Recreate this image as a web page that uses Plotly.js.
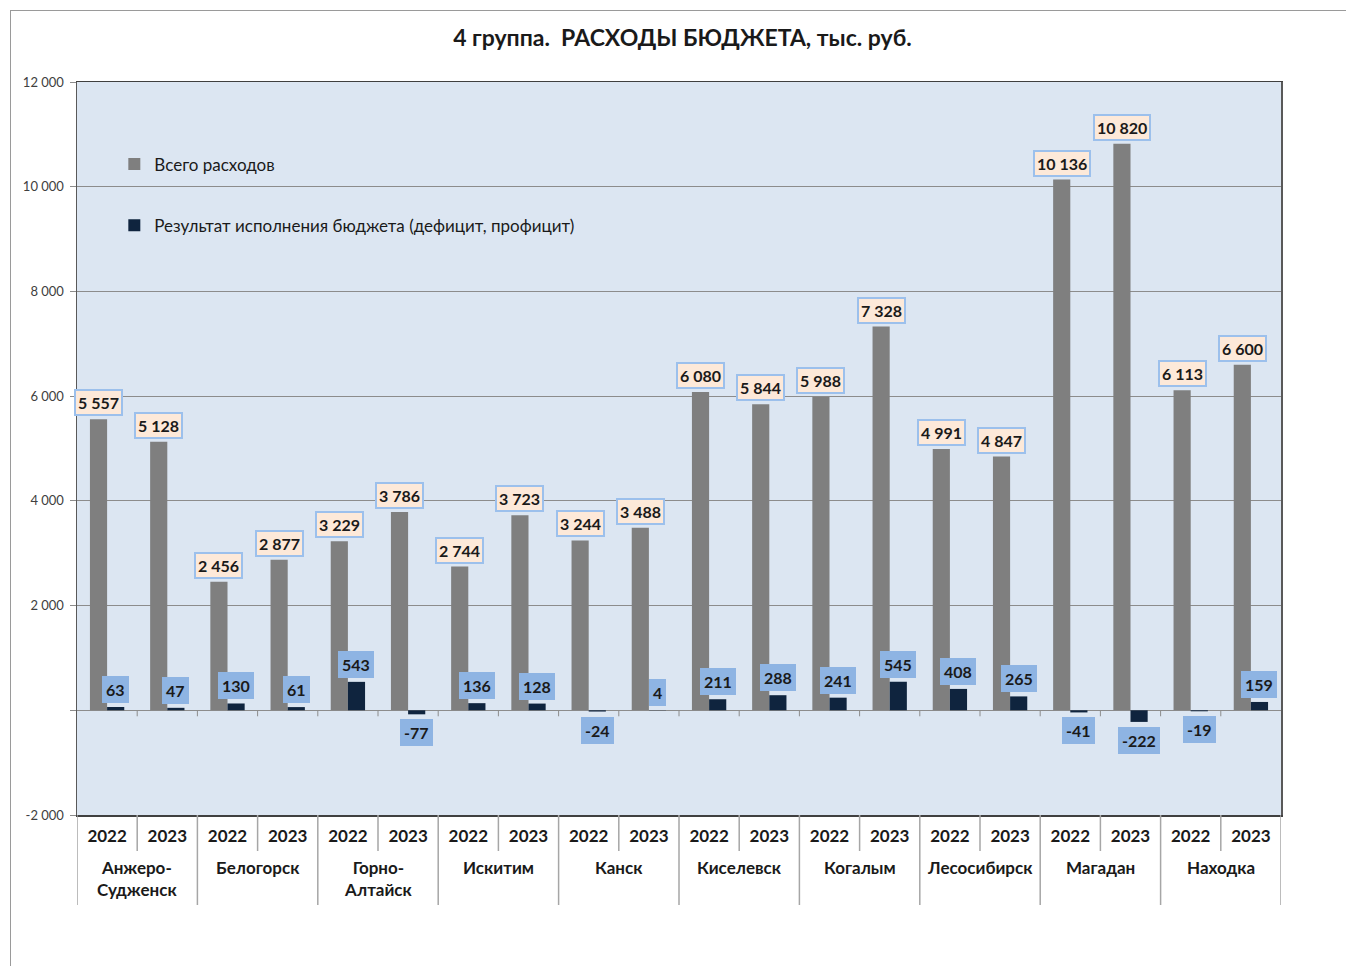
<!DOCTYPE html>
<html>
<head>
<meta charset="utf-8">
<script src="https://cdn.plot.ly/plotly-3.0.1.min.js"></script>
<style>
  html, body { margin: 0; padding: 0; background: #ffffff; }
  #chart { width: 1346px; height: 966px; }
  #frame { position: absolute; left: 10px; top: 10px; width: 1400px; height: 1000px;
           border-left: 1px solid #9a9a9a; border-top: 1px solid #9a9a9a; pointer-events: none; }
</style>
</head>
<body>
<div id="chart"></div>
<div id="frame"></div>
<script>
const cities = ['Анжеро-<br>Судженск', 'Белогорск', 'Горно-<br>Алтайск', 'Искитим', 'Канск',
                'Киселевск', 'Когалым', 'Лесосибирск', 'Магадан', 'Находка'];
const years = ['2022', '2023'];
const totalExp = [5557, 5128, 2456, 2877, 3229, 3786, 2744, 3723, 3244, 3488,
                  6080, 5844, 5988, 7328, 4991, 4847, 10136, 10820, 6113, 6600];
const balance = [63, 47, 130, 61, 543, -77, 136, 128, -24, 4,
                 211, 288, 241, 545, 408, 265, -41, -222, -19, 159];
const yTickVals = [-2000, 0, 2000, 4000, 6000, 8000, 10000, 12000];
const seriesNames = ['Всего расходов', 'Результат исполнения бюджета (дефицит, профицит)'];

const FONT = 'Lato, "Open Sans", sans-serif';
const fmt = v => {
  const s = Math.abs(v).toString().replace(/\B(?=(\d{3})+(?!\d))/g, ' ');
  return (v < 0 ? '-' : '') + s;
};

const xIdx = [];
const yearLabels = [];
cities.forEach((c, ci) => years.forEach((y, yi) => { xIdx.push(ci * years.length + yi); yearLabels.push(y); }));

const bargap = 0.43;
const barW = (1 - bargap) / 2;

const traces = [
  { type: 'bar', name: seriesNames[0], x: xIdx, y: totalExp, marker: { color: '#7f7f7f' },
    legendgroup: 'a', hoverinfo: 'skip' },
  { type: 'bar', name: seriesNames[1], x: xIdx, y: balance, marker: { color: '#0f243e' },
    legendgroup: 'b', hoverinfo: 'skip' }
];

const annotations = [];
xIdx.forEach((xi, i) => {
  annotations.push({
    x: xi - barW / 2, y: totalExp[i], xref: 'x', yref: 'y',
    text: fmt(totalExp[i]), showarrow: false, yanchor: 'bottom', yshift: 3,
    font: { family: FONT, size: 16, color: '#1a1a1a', weight: 'bold' },
    bgcolor: '#fde9d9', bordercolor: '#9cc0ec', borderwidth: 2, borderpad: 2
  });
  const b = balance[i];
  annotations.push({
    x: xi + barW / 2, y: b, xref: 'x', yref: 'y',
    text: fmt(b), showarrow: false,
    yanchor: b >= 0 ? 'bottom' : 'top', yshift: b >= 0 ? 4 : -5,
    font: { family: FONT, size: 16, color: '#1a1a1a', weight: 'bold' },
    bgcolor: '#8eb4e3', bordercolor: '#8eb4e3', borderwidth: 1, borderpad: 3
  });
});
cities.forEach((c, ci) => {
  annotations.push({
    x: ci * years.length + (years.length - 1) / 2, y: 0, xref: 'x', yref: 'paper',
    text: c, showarrow: false, yanchor: 'top', yshift: -40,
    font: { family: FONT, size: 17, color: '#1a1a1a', weight: 'bold' }
  });
});

const shapes = [];
const lineCol = '#a6a6a6';
for (let k = 0; k <= xIdx.length; k++) {
  const xb = k - 0.5;
  const isCity = (k % years.length === 0);
  shapes.push({ type: 'line', xref: 'x', yref: 'paper', x0: xb, x1: xb,
    ysizemode: 'pixel', yanchor: 0, y0: 0, y1: isCity ? -90 : -36,
    line: { color: lineCol, width: 1.5 } });
  if (k > 0 && k < xIdx.length) {
    shapes.push({ type: 'line', xref: 'x', yref: 'y', x0: xb, x1: xb,
      ysizemode: 'pixel', yanchor: 0, y0: 0, y1: -6,
      line: { color: '#8c8c8c', width: 1 } });
  }
}

const layout = {
  width: 1346, height: 966,
  margin: { l: 77, r: 65, t: 82, b: 151 },
  paper_bgcolor: '#ffffff', plot_bgcolor: '#dce6f2',
  font: { family: FONT, color: '#1a1a1a' },
  title: { text: '4 группа.  РАСХОДЫ БЮДЖЕТА, тыс. руб.', x: 0.507, xanchor: 'center',
           y: 1 - 38 / 966, yanchor: 'middle', yref: 'container',
           font: { family: FONT, size: 23, color: '#1a1a1a', weight: 'bold' } },
  barmode: 'group', bargap: bargap, bargroupgap: 0,
  showlegend: true,
  legend: { x: 0.031, y: 0.912, xanchor: 'left', yanchor: 'top', bgcolor: 'rgba(0,0,0,0)',
            traceorder: 'grouped', tracegroupgap: 36, itemclick: false,
            font: { family: FONT, size: 17, color: '#1a1a1a' } },
  xaxis: { type: 'linear', range: [-0.5, xIdx.length - 0.5], tickmode: 'array',
           tickvals: xIdx, ticktext: yearLabels, ticks: '', showgrid: false, zeroline: false,
           showline: true, linecolor: '#404040', linewidth: 1.5, mirror: true,
           tickfont: { family: FONT, size: 17, color: '#1a1a1a', weight: 'bold' },
           ticklabelstandoff: 5 },
  yaxis: { range: [-2000, 12000], tickmode: 'array', tickvals: yTickVals,
           ticktext: yTickVals.map(v => v === 0 ? '' : fmt(v)),
           showgrid: true, gridcolor: '#8c8c8c', gridwidth: 1,
           zeroline: true, zerolinecolor: '#8c8c8c', zerolinewidth: 1,
           ticks: 'outside', ticklen: 6, tickcolor: '#8c8c8c',
           showline: true, linecolor: '#595959', linewidth: 1.5, mirror: true,
           ticklabelstandoff: 3,
           tickfont: { family: FONT, size: 13, color: '#404040' } },
  annotations: annotations,
  shapes: shapes
};

Plotly.newPlot('chart', traces, layout, { staticPlot: true, displayModeBar: false });
</script>
</body>
</html>
